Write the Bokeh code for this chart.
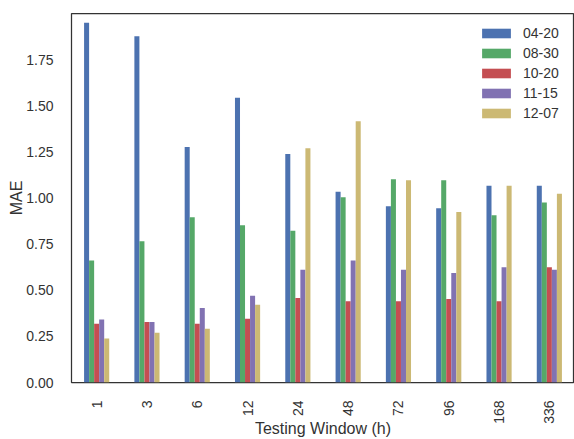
import math
from bokeh.plotting import figure
from bokeh.models import (Range1d, FactorRange, FixedTicker, NumeralTickFormatter,
                          Legend, LegendItem, ColumnDataSource)
from bokeh.transform import dodge
from bokeh.embed import file_html
from bokeh.resources import INLINE

windows = ["1", "3", "6", "12", "24", "48", "72", "96", "168", "336"]
series_names = ["04-20", "08-30", "10-20", "11-15", "12-07"]
mae_0420 = [1.950, 1.877, 1.276, 1.544, 1.238, 1.034, 0.955, 0.944, 1.067, 1.067]
mae_0830 = [0.661, 0.766, 0.896, 0.852, 0.822, 1.004, 1.101, 1.096, 0.906, 0.975]
mae_1020 = [0.319, 0.328, 0.319, 0.346, 0.458, 0.440, 0.440, 0.452, 0.440, 0.625]
mae_1115 = [0.342, 0.328, 0.404, 0.470, 0.611, 0.661, 0.611, 0.593, 0.625, 0.611]
mae_1207 = [0.238, 0.269, 0.292, 0.422, 1.269, 1.416, 1.096, 0.924, 1.067, 1.023]
y_ticks = [0, 0.25, 0.5, 0.75, 1.0, 1.25, 1.5, 1.75]

colors = ["#4C72B0", "#55A868", "#C44E52", "#8172B2", "#CCB974"]
series_values = [mae_0420, mae_0830, mae_1020, mae_1115, mae_1207]

data = {"window": windows}
for name, vals in zip(series_names, series_values):
    data[name] = vals
source = ColumnDataSource(data)

FONT = "Liberation Sans"
TXT = "#333333"

p = figure(x_range=FactorRange(factors=windows), y_range=Range1d(0, 2.0),
           width=574, height=439, output_backend="svg", toolbar_location=None,
           min_border_left=71, min_border_right=0, min_border_top=13, min_border_bottom=56)

offsets = [-0.2, -0.1, 0.0, 0.1, 0.2]
renderers = []
for name, col, off in zip(series_names, colors, offsets):
    r = p.vbar(x=dodge("window", off, range=p.x_range), top=name, width=0.1,
               source=source, fill_color=col, line_color=None)
    renderers.append(r)

p.xgrid.visible = False
p.ygrid.visible = False
p.outline_line_color = TXT
p.outline_line_width = 1.25
p.background_fill_color = "white"
p.border_fill_color = "white"

for ax in (p.xaxis[0], p.yaxis[0]):
    ax.axis_line_color = None
    ax.major_tick_line_color = None
    ax.minor_tick_line_color = None
    ax.major_label_text_font = FONT
    ax.major_label_text_font_size = "14px"
    ax.major_label_text_color = TXT
    ax.axis_label_text_font = FONT
    ax.axis_label_text_font_size = "16px"
    ax.axis_label_text_font_style = "normal"
    ax.axis_label_text_color = TXT
    ax.major_label_standoff = 12

p.xaxis.axis_label = "Testing Window (h)"
p.xaxis.major_label_orientation = math.pi / 2
p.xaxis.axis_label_standoff = -7
p.yaxis.axis_label = "MAE"
p.yaxis.axis_label_standoff = -2
p.yaxis.ticker = FixedTicker(ticks=y_ticks)
p.yaxis.formatter = NumeralTickFormatter(format="0.00")

legend = Legend(items=[LegendItem(label=n, renderers=[r]) for n, r in zip(series_names, renderers)],
                location=(407, 261), orientation="vertical",
                glyph_width=36, glyph_height=12, label_height=12, spacing=4,
                label_standoff=9, padding=0, margin=0,
                border_line_color=None, background_fill_alpha=0,
                label_text_font=FONT, label_text_font_size="14px", label_text_color=TXT)
p.add_layout(legend)

open("out.html", "w").write(file_html(p, INLINE))
